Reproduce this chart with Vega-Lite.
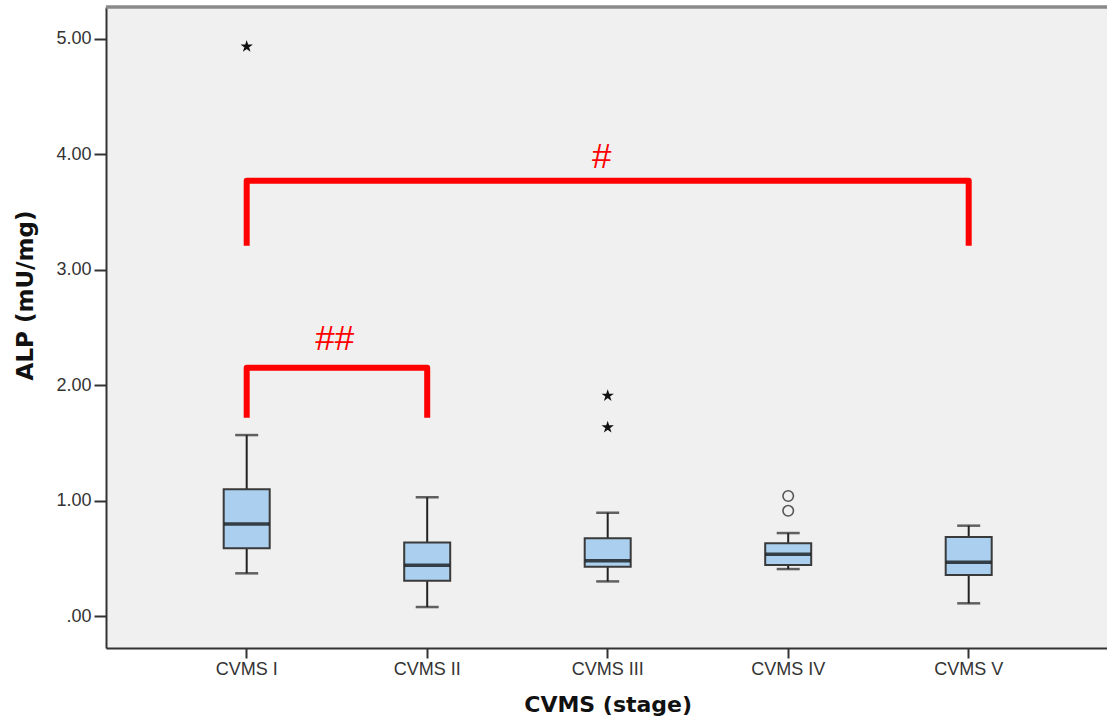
{
  "$schema": "https://vega.github.io/schema/vega-lite/v6.json",
  "autosize": "none",
  "width": 1001,
  "height": 641,
  "padding": {"left": 106, "top": 7, "right": 0, "bottom": 75},
  "background": "white",
  "config": {
    "view": {"fill": "#f0f0f0", "stroke": null}
  },
  "datasets": {
    "boxes": [
      {"stage": "CVMS I", "lo": 0.37, "q1": 0.587, "median": 0.797, "q3": 1.098, "hi": 1.568},
      {"stage": "CVMS II", "lo": 0.078, "q1": 0.306, "median": 0.439, "q3": 0.638, "hi": 1.029},
      {"stage": "CVMS III", "lo": 0.30, "q1": 0.427, "median": 0.479, "q3": 0.673, "hi": 0.895},
      {"stage": "CVMS IV", "lo": 0.407, "q1": 0.442, "median": 0.535, "q3": 0.63, "hi": 0.719},
      {"stage": "CVMS V", "lo": 0.11, "q1": 0.355, "median": 0.465, "q3": 0.685, "hi": 0.783}
    ],
    "outliers": [
      {"stage": "CVMS I", "value": 4.934, "kind": "extreme"},
      {"stage": "CVMS III", "value": 1.909, "kind": "extreme"},
      {"stage": "CVMS III", "value": 1.635, "kind": "extreme"},
      {"stage": "CVMS IV", "value": 1.04, "kind": "outlier"},
      {"stage": "CVMS IV", "value": 0.912, "kind": "outlier"}
    ],
    "brackets": [
      {"bracket": "I-V", "stage": "CVMS I", "value": 3.209, "order": 1},
      {"bracket": "I-V", "stage": "CVMS I", "value": 3.772, "order": 2},
      {"bracket": "I-V", "stage": "CVMS V", "value": 3.772, "order": 3},
      {"bracket": "I-V", "stage": "CVMS V", "value": 3.209, "order": 4},
      {"bracket": "I-II", "stage": "CVMS I", "value": 1.718, "order": 1},
      {"bracket": "I-II", "stage": "CVMS I", "value": 2.152, "order": 2},
      {"bracket": "I-II", "stage": "CVMS II", "value": 2.152, "order": 3},
      {"bracket": "I-II", "stage": "CVMS II", "value": 1.718, "order": 4}
    ],
    "marks": [
      {"label": "##", "stage": "CVMS I", "value": 2.305},
      {"label": "#", "stage": "CVMS III", "value": 3.88}
    ]
  },
  "encoding": {
    "x": {
      "field": "stage",
      "type": "nominal",
      "sort": ["CVMS I", "CVMS II", "CVMS III", "CVMS IV", "CVMS V"],
      "scale": {
        "domain": ["CVMS I", "CVMS II", "CVMS III", "CVMS IV", "CVMS V"],
        "type": "band",
        "range": [0, 1003.4],
        "paddingInner": 0,
        "paddingOuter": 0.2795
      },
      "axis": {
        "title": "CVMS (stage)",
        "labelAngle": 0,
        "labelFont": "Liberation Sans",
        "labelFontSize": 18,
        "labelColor": "#333333",
        "labelPadding": 2,
        "labelBaseline": "top",
        "tickSize": 10,
        "tickWidth": 2,
        "tickColor": "#333333",
        "domainColor": "#333333",
        "domainWidth": 2,
        "titleFont": "DejaVu Sans",
        "titleFontWeight": "bold",
        "titleFontSize": 22,
        "titleColor": "#111111",
        "titleAnchor": "middle",
        "titleBaseline": "alphabetic",
        "titleY": 63
      }
    }
  },
  "layer": [
    {
      "data": {"name": "boxes"},
      "mark": {"type": "rule", "color": "#8a8a8a", "strokeWidth": 2.5},
      "encoding": {
        "x": null,
        "y": {"datum": 5.277, "type": "quantitative"}
      }
    },
    {
      "data": {"name": "brackets"},
      "mark": {"type": "line", "color": "#ff0000", "strokeWidth": 6, "strokeJoin": "round", "strokeCap": "butt"},
      "encoding": {
        "y": {
          "field": "value",
          "type": "quantitative",
          "scale": {"domain": [-0.277, 5.277], "nice": false, "zero": false},
          "axis": {
            "title": "ALP (mU/mg)",
            "values": [0, 1, 2, 3, 4, 5],
            "labelExpr": "datum.value == 0 ? '.00' : format(datum.value, '.2f')",
            "grid": false,
            "labelFont": "Liberation Sans",
            "labelFontSize": 18,
            "labelColor": "#333333",
            "labelPadding": 3,
            "tickSize": 12,
            "tickWidth": 2,
            "tickColor": "#333333",
            "domainColor": "#333333",
            "domainWidth": 2,
            "titleFont": "DejaVu Sans",
            "titleFontWeight": "bold",
            "titleFontSize": 23,
            "titleColor": "#111111",
            "titleAngle": 270,
            "titleAlign": "center",
            "titleBaseline": "middle",
            "titleX": -81,
            "titleY": 288
          }
        },
        "detail": {"field": "bracket"},
        "order": {"field": "order", "type": "quantitative"}
      }
    },
    {
      "data": {"name": "boxes"},
      "mark": {"type": "rule", "color": "#222222", "strokeWidth": 2},
      "encoding": {
        "y": {"field": "lo", "type": "quantitative"},
        "y2": {"field": "hi"}
      }
    },
    {
      "data": {"name": "boxes"},
      "mark": {"type": "tick", "color": "#222222", "size": 23, "thickness": 2.5, "orient": "horizontal"},
      "encoding": {"y": {"field": "lo", "type": "quantitative"}}
    },
    {
      "data": {"name": "boxes"},
      "mark": {"type": "tick", "color": "#222222", "size": 23, "thickness": 2.5, "orient": "horizontal"},
      "encoding": {"y": {"field": "hi", "type": "quantitative"}}
    },
    {
      "data": {"name": "boxes"},
      "mark": {"type": "bar", "width": 46, "fill": "#abcfee", "stroke": "#3a3a3a", "strokeWidth": 2},
      "encoding": {
        "y": {"field": "q1", "type": "quantitative"},
        "y2": {"field": "q3"}
      }
    },
    {
      "data": {"name": "boxes"},
      "mark": {"type": "tick", "color": "#000000", "size": 45, "thickness": 3.5, "orient": "horizontal"},
      "encoding": {"y": {"field": "median", "type": "quantitative"}}
    },
    {
      "data": {"name": "outliers"},
      "mark": {"type": "point", "size": 110, "strokeWidth": 1.6, "opacity": 1},
      "encoding": {
        "y": {"field": "value", "type": "quantitative"},
        "shape": {
          "field": "kind",
          "type": "nominal",
          "scale": {
            "domain": ["extreme", "outlier"],
            "range": ["M0,-0.75L0.168,-0.232L0.713,-0.232L0.272,0.089L0.441,0.607L0,0.287L-0.441,0.607L-0.272,0.089L-0.713,-0.232L-0.168,-0.232Z", "circle"]
          },
          "legend": null
        },
        "fill": {
          "field": "kind",
          "type": "nominal",
          "scale": {"domain": ["extreme", "outlier"], "range": ["#111111", "transparent"]},
          "legend": null
        },
        "stroke": {
          "field": "kind",
          "type": "nominal",
          "scale": {"domain": ["extreme", "outlier"], "range": ["#111111", "#555555"]},
          "legend": null
        }
      }
    },
    {
      "data": {"name": "marks"},
      "transform": [{"filter": "datum.label == '##'"}],
      "mark": {"type": "text", "color": "#ff0000", "font": "Liberation Sans", "fontSize": 35, "align": "center", "baseline": "alphabetic", "dx": 88},
      "encoding": {
        "y": {"field": "value", "type": "quantitative"},
        "text": {"field": "label"}
      }
    },
    {
      "data": {"name": "marks"},
      "transform": [{"filter": "datum.label == '#'"}],
      "mark": {"type": "text", "color": "#ff0000", "font": "Liberation Sans", "fontSize": 35, "align": "center", "baseline": "alphabetic", "dx": -6},
      "encoding": {
        "y": {"field": "value", "type": "quantitative"},
        "text": {"field": "label"}
      }
    }
  ]
}
